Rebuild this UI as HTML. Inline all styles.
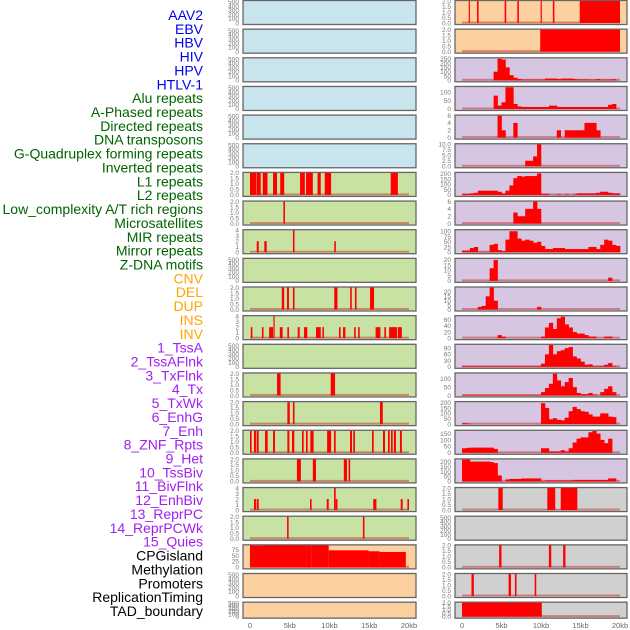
<!DOCTYPE html>
<html><head><meta charset="utf-8">
<style>
html,body{margin:0;padding:0;background:#fff;}
svg{display:block;font-family:"Liberation Sans",sans-serif;}
</style></head>
<body>
<svg id="chart" width="630" height="630" viewBox="0 0 630 630" xmlns="http://www.w3.org/2000/svg"></svg>
<script>
// ---- labels ----
const labelTexts = ["AAV2","EBV","HBV","HIV","HPV","HTLV-1","Alu repeats","A-Phased repeats","Directed repeats","DNA transposons","G-Quadruplex forming repeats","Inverted repeats","L1 repeats","L2 repeats","Low_complexity A/T rich regions","Microsatellites","MIR repeats","Mirror repeats","Z-DNA motifs","CNV","DEL","DUP","INS","INV","1_TssA","2_TssAFlnk","3_TxFlnk","4_Tx","5_TxWk","6_EnhG","7_Enh","8_ZNF_Rpts","9_Het","10_TssBiv","11_BivFlnk","12_EnhBiv","13_ReprPC","14_ReprPCWk","15_Quies","CPGisland","Methylation","Promoters","ReplicationTiming","TAD_boundary"];
const labelGroups = [6,13,5,15,5];
const groupColors = ["#0000ee","#006400","#ffa500","#a020f0","#000000"];

// ---- x axis ----
const xTickKb = [0,5,10,15,20];
const xTickLabels = ["0","5kb","10kb","15kb","20kb"];

// ---- middle column interval data [startKb, endKb, value] ----
const midL1 = [[0,0.8,2],[0.85,1.35,2],[1.6,2.2,2],[2.9,3.4,2],[3.8,4.3,2],[6.3,6.9,2],[7.05,7.9,2],[8.5,8.9,2],[9.4,10.2,2],[17.7,18.6,2]];
const midL2 = [[4.2,4.4,2]];
const midLowComplex = [[0.85,1.1,2],[1.8,2.1,2],[5.4,5.6,4],[10.6,10.8,2]];
const midMIR = [[4,4.3,2],[4.65,4.9,2],[5.4,5.6,2],[10.6,11.0,2],[12.6,12.8,2],[13.2,13.4,2],[15.1,15.6,2]];
const midMirror = [[0.1,0.3,2],[1.5,1.7,2],[2.4,2.9,2],[2.95,3.1,4],[3.75,4.1,2],[4.7,4.9,2],[6,6.25,2],[6.8,7.2,2],[8.3,8.9,2],[9.1,9.3,2],[11.2,11.4,2],[11.7,12,2],[13.1,13.3,2],[13.6,13.8,2],[15.8,16.4,2],[16.9,17.1,2],[17.5,18.5,2],[18.6,19.1,2]];
const midDEL = [[3.4,3.85,2],[10.15,10.7,2]];
const midDUP = [[4.7,5.0,2],[5.4,5.6,2],[16.35,16.7,2]];
const midINS = [[0,0.2,2],[0.5,0.75,2],[0.84,1.09,2],[1.89,2.22,2],[2.9,3.14,2],[4.7,4.95,2],[5.28,5.57,2],[6.54,6.75,2],[7.04,7.25,2],[7.59,8.0,2],[9.7,10.2,2],[10.57,10.78,2],[12.58,12.83,2],[12.99,13.2,2],[15.35,15.56,2],[16.73,16.98,2],[17.36,17.57,2],[17.74,17.95,2],[18.1,18.36,2],[18.86,19.1,2]];
const midINV = [[5.9,6.4,2],[7.9,8.3,2],[11.8,12.2,2],[12.4,12.6,2]];
const midTssA = [[0.5,0.75,2],[0.84,1.09,2],[7.55,7.75,2],[9.65,9.9,2],[10.57,10.78,4],[10.78,11.0,2],[15.5,15.9,2],[18.96,19.2,2],[19.8,20,2]];
const midTssAFlnk = [[4.66,4.86,2],[14.2,14.4,2]];
const midCPG = [[0,0.5,96],[0.5,1.7,92],[1.7,7.1,96],[7.1,7.7,97],[7.7,9.9,93],[9.9,14.9,72],[14.9,16.3,68],[16.3,19.6,65]];

// ---- right column interval data ----
const rightAAV2 = [[0.85,1.0,2],[1.9,2.1,2],[5.4,5.6,2],[7.0,7.2,2],[9.95,10.1,2],[11.5,11.7,2],[14.9,20,2]];
const rightEBV = [[9.9,20,2]];
const rightTx = [[4.6,5.15,2],[10.8,11.8,2],[12.5,14.6,2]];
const rightCPG = [[4.7,5.0,2],[11.0,11.3,2],[12.8,13.1,2]];
const rightMeth = [[1.2,1.5,2],[5.9,6.2,2],[6.7,6.9,2],[9.2,9.4,2]];
const rightTAD = [[0,10.1,2]];

// ---- right column profile data (40 bins of 0.5kb) ----
const profHPV = [0,0,0,0,0,0,0,0,100,250,240,150,60,30,15,8,8,8,8,8,8,20,20,20,15,20,20,20,15,10,10,10,8,8,15,8,8,8,12,0];
const profHIV = [0,0,0,0,0,0,0,0,80,20,40,130,130,30,15,12,12,12,12,12,12,12,20,20,12,12,12,12,12,12,12,12,12,12,12,12,12,25,30,0];
const profAlu = [0,0,0,0,0,0,0,0,0,6,2,0,0,4,0,0,0,0,0,0,0,0,0,0,2,0,2,2,2,2,2,4,4,4,2,0,0,0,0,0];
const profAPhased = [0,0,0,0,0,0,0,0,0,0,0,0,0,0,0,0,2.5,2.5,4.5,10,0,0,0,0,0,0,0,0,0,0,0,0,0,0,0,0,0,0,0,0];
const profDirected = [10,10,15,20,40,40,40,40,40,30,15,40,90,160,180,175,180,180,180,205,10,10,0,0,5,0,5,0,5,15,15,15,15,15,20,30,30,20,15,15];
const profDNAT = [0,0,0,0,0,0,0,0,0,0,0,0,0,3,2,2,4,4,6,4,0,0,0,0,0,0,0,0,0,0,0,0,0,0,0,0,0,0,0,0];
const profGQuad = [8,8,20,25,2,2,2,35,40,10,5,60,100,100,65,55,60,55,45,50,30,15,15,20,20,20,15,15,15,15,15,15,25,25,15,35,60,55,35,30];
const profInverted = [0,0,0,0,0,0,0,12,20,0,0,0,0,0,0,0,0,0,0,0,0,0,0,0,0,0,0,0,0,0,0,0,0,0,0,0,0,3,0,0];
const profL1 = [0,0,0,0,3,4,15,25,10,0,0,0,0,0,0,0,0,0,0,3,0,0,0,0,0,0,0,0,0,0,0,0,0,0,0,0,0,0,0,0];
const profL2 = [0,0,0,0,0,0,0,0,0,10,5,0,0,0,0,0,0,0,0,0,5,35,50,30,65,70,45,35,20,15,15,10,5,5,0,0,5,5,0,0];
const profLowC = [3,3,3,3,3,3,3,3,3,3,3,3,3,3,3,3,3,3,3,3,15,60,105,60,75,80,90,95,50,40,25,10,12,3,3,3,10,18,3,0];
const profMicro = [3,3,3,3,3,3,3,3,3,3,3,3,3,3,3,3,3,3,3,3,20,45,70,130,90,55,80,105,50,15,8,8,15,5,0,20,40,55,20,0];
const profMIR = [8,5,0,0,0,0,0,0,0,0,0,0,0,0,0,0,0,0,0,0,195,150,45,55,40,35,60,120,160,140,120,115,90,70,70,100,100,70,65,0];
const profMirror = [35,38,40,40,40,40,40,40,30,0,0,0,0,0,0,0,0,0,0,0,35,35,10,10,10,20,10,35,80,110,120,120,160,170,150,100,75,110,0,0];
const profZDNA = [220,220,200,200,200,200,200,195,185,60,0,20,25,25,25,30,30,30,30,30,5,10,10,10,10,10,10,10,15,15,15,15,15,15,15,15,15,30,30,0];

// ---- y tick arrays ----
const t500 = [0,100,200,300,400,500];
const t2 = [0,0.5,1,1.5,2];
const t4 = [0,1,2,3,4];

// panel specs: [bg, ymax, ticks, decimals, type, data]
const BLUE="#c8e4ec", GREEN="#c8e2a4", ORANGE="#fdd0a0", PURPLE="#d6c6e2", GRAY="#d0d0d0";
const midPanels = [
 [BLUE,520,t500,0,"none",null],[BLUE,520,t500,0,"none",null],[BLUE,520,t500,0,"none",null],
 [BLUE,520,t500,0,"none",null],[BLUE,520,t500,0,"none",null],[BLUE,520,t500,0,"none",null],
 [GREEN,2,t2,1,"iv",midL1],[GREEN,2,t2,1,"iv",midL2],[GREEN,4,t4,0,"iv",midLowComplex],
 [GREEN,520,t500,0,"none",null],[GREEN,2,t2,1,"iv",midMIR],[GREEN,4,t4,0,"iv",midMirror],
 [GREEN,520,t500,0,"none",null],[GREEN,2,t2,1,"iv",midDEL],[GREEN,2,t2,1,"iv",midDUP],
 [GREEN,2,t2,1,"iv",midINS],[GREEN,2,t2,1,"iv",midINV],[GREEN,4,t4,0,"iv",midTssA],
 [GREEN,2,t2,1,"iv",midTssAFlnk],[ORANGE,93,[0,25,50,75],0,"iv",midCPG],
 [ORANGE,520,t500,0,"none",null],[ORANGE,520,t500,0,"none",null]
];
const rightPanels = [
 [ORANGE,2,t2,1,"iv",rightAAV2],[ORANGE,2,t2,1,"iv",rightEBV],
 [PURPLE,255,[0,50,100,150,200,250],0,"pf",profHPV],[PURPLE,132,[0,50,100],0,"pf",profHIV],
 [PURPLE,6,[0,2,4,6],0,"pf",profAlu],[PURPLE,10,[0,2.5,5,7.5,10],1,"pf",profAPhased],
 [PURPLE,210,[0,50,100,150,200],0,"pf",profDirected],[PURPLE,6,[0,2,4,6],0,"pf",profDNAT],
 [PURPLE,105,[0,25,50,75,100],0,"pf",profGQuad],[PURPLE,21,[0,5,10,15,20],0,"pf",profInverted],
 [PURPLE,25,[0,5,10,15,20],0,"pf",profL1],[PURPLE,72,[0,20,40,60],0,"pf",profL2],
 [PURPLE,106,[0,30,60,90],0,"pf",profLowC],[PURPLE,132,[0,50,100],0,"pf",profMicro],
 [PURPLE,205,[0,50,100,150,200],0,"pf",profMIR],[PURPLE,172,[0,50,100,150],0,"pf",profMirror],
 [PURPLE,222,[0,50,100,150,200],0,"pf",profZDNA],[GRAY,2,t2,1,"iv",rightTx],
 [GRAY,520,t500,0,"none",null],[GRAY,2,t2,1,"iv",rightCPG],
 [GRAY,2,t2,1,"iv",rightMeth],[GRAY,2,t2,1,"iv",rightTAD]
];

const svg = document.getElementById('chart');
const NS = "http://www.w3.org/2000/svg";
function mk(tag, attrs){ const e=document.createElementNS(NS,tag); for(const k in attrs) e.setAttribute(k,attrs[k]); svg.appendChild(e); return e; }

// labels
let li=0;
labelGroups.forEach((n,g)=>{
  for(let k=0;k<n;k++){
    const t = mk('text',{x:203,y:(15+li*13.86+5).toFixed(1),'text-anchor':'end','font-size':'14',fill:groupColors[g]});
    t.textContent = labelTexts[li];
    
    
    li++;
  }
});

function drawColumn(panels, left, right, x0, x20, tickRight, colName){
  const xs = kb => x0 + (x20-x0)*kb/20;
  panels.forEach((p,i)=>{
    const [bg,ymax,ticks,dec,type,data] = p;
    const top = i*28.65;
    const h = (i===21)?17:25;
    const yb = top + h - 2, yt = top + 1;
    const ys = v => yb - (yb-yt)*Math.min(v,ymax)/ymax;
    const r = mk('rect',{x:left,y:top+0.5,width:right-left,height:h-1,fill:bg,stroke:'#666','stroke-width':1.3});
    
    
    ticks.forEach(tv=>{
      const t = mk('text',{x:tickRight,y:(ys(tv)+2.3).toFixed(1),'text-anchor':'end','font-size':'6.5',fill:'#777'});
      t.textContent = tv.toFixed(dec);
      
      
    });
    if(type==="none") return;
    const base = mk('rect',{x:xs(0),y:yb-1.5,width:xs(20)-xs(0),height:2,fill:'rgba(190,30,30,0.45)'});
    
    
    if(type==="iv"){
      data.forEach(d=>{
        const b = mk('rect',{x:xs(d[0]).toFixed(2),y:ys(d[2]).toFixed(2),width:Math.max(1.2,xs(d[1])-xs(d[0])).toFixed(2),height:(yb-ys(d[2])).toFixed(2),fill:'#ff0000'});
        
        
      });
    } else {
      const bw = 20/data.length;
      data.forEach((v,k)=>{
        if(v<=0) return;
        const b = mk('rect',{x:xs(k*bw).toFixed(2),y:ys(v).toFixed(2),width:(xs((k+1)*bw)-xs(k*bw)+0.3).toFixed(2),height:(yb-ys(v)).toFixed(2),fill:'#ff0000'});
        
        
      });
    }
  });
  xTickKb.forEach((kb,j)=>{
    const t = mk('text',{x:xs(kb),y:628,'text-anchor':'middle','font-size':'7.5',fill:'#666'});
    t.textContent = xTickLabels[j];
    
    
  });
}
drawColumn(midPanels, 243, 416, 250, 409, 239, 'middle');
drawColumn(rightPanels, 455, 627, 462, 620, 451, 'right');
</script>
</body></html>
